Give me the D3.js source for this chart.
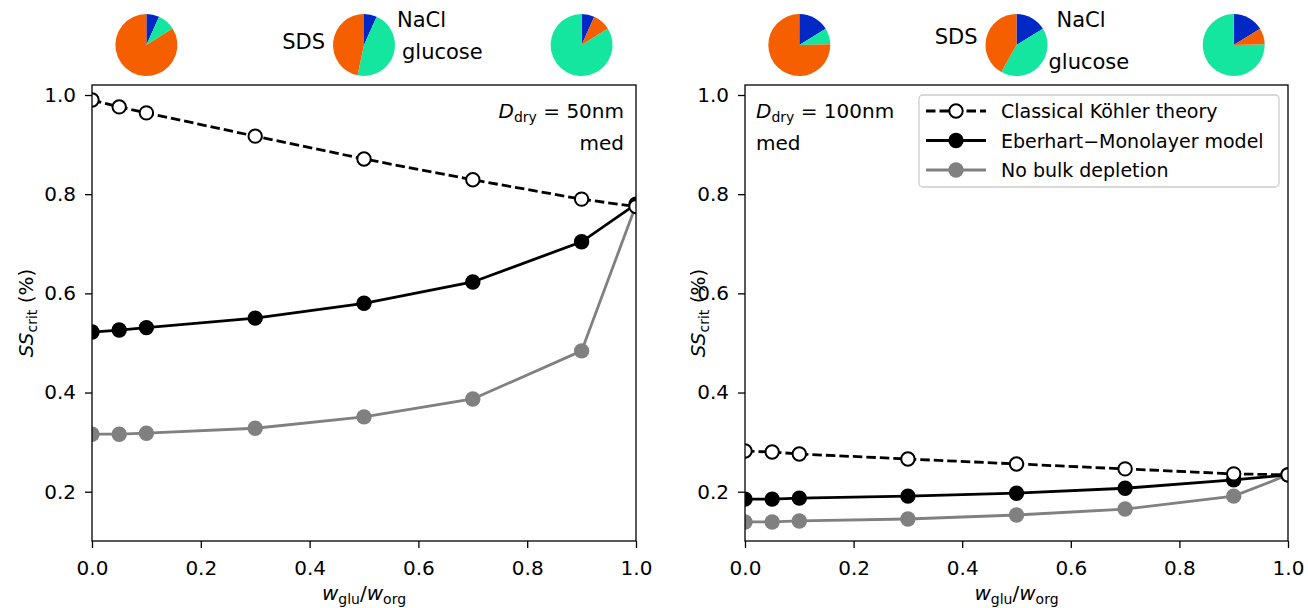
<!DOCTYPE html>
<html><head><meta charset="utf-8">
<script src="https://cdn.jsdelivr.net/npm/d3@7"></script>
<style>body{margin:0;background:#fff} svg{font-family:"DejaVu Sans",sans-serif}</style>
</head><body><svg id="c" width="1308" height="608"></svg>
<script>
// ---------- data ----------
const xValues = [0, 0.05, 0.1, 0.3, 0.5, 0.7, 0.9, 1.0];
const classical50 = [0.990, 0.976, 0.964, 0.917, 0.871, 0.829, 0.790, 0.775];
const eberhart50  = [0.522, 0.526, 0.531, 0.550, 0.580, 0.623, 0.704, 0.780];
const noBulk50    = [0.316, 0.316, 0.318, 0.328, 0.351, 0.387, 0.484, 0.778];
const classical100 = [0.282, 0.280, 0.276, 0.266, 0.256, 0.246, 0.236, 0.234];
const eberhart100  = [0.185, 0.185, 0.187, 0.191, 0.197, 0.207, 0.224, 0.234];
const noBulk100    = [0.139, 0.139, 0.141, 0.145, 0.153, 0.165, 0.191, 0.234];
const xTicks = [0, 0.2, 0.4, 0.6, 0.8, 1.0];
const yTicks = [0.2, 0.4, 0.6, 0.8, 1.0];
const seriesNames = ["Classical Köhler theory", "Eberhart\u2212Monolayer model", "No bulk depletion"];
const componentNames = ["NaCl", "glucose", "SDS"];
const pieX = [0.1, 0.5, 0.9];
const pieNaCl50 = [6.7, 6.7, 6.7];
const pieGlucose50 = [9.3, 46.65, 84.0];
const pieSDS50 = [84.0, 46.65, 9.3];
const pieNaCl100 = [16.2, 16.2, 16.2];
const pieGlucose100 = [8.4, 41.9, 75.4];
const pieSDS100 = [75.4, 41.9, 8.4];
const panelLabels = ["50nm", "100nm"];

// ---------- style ----------
const compColor = {NaCl: "#0028c4", glucose: "#14e6a0", SDS: "#f65f00"};
const svg = d3.select("#c");
const yTop = 85, yBottom = 541;
const panels = [
  {x0: 92, x1: 636, cl: classical50, eb: eberhart50, nb: noBulk50, pn: pieNaCl50, pg: pieGlucose50, ps: pieSDS50, lab: panelLabels[0], right: true, legend: false, ylabX: 33},
  {x0: 745, x1: 1288, cl: classical100, eb: eberhart100, nb: noBulk100, pn: pieNaCl100, pg: pieGlucose100, ps: pieSDS100, lab: panelLabels[1], right: false, legend: true, ylabX: 705}
];
const y = d3.scaleLinear().domain([0.1006, 1.0202]).range([yBottom, yTop]);
const FS = 20;

panels.forEach((p, pi) => {
  const x = d3.scaleLinear().domain([0, 1]).range([p.x0, p.x1]);
  const g = svg.append("g");
  const clipId = "clip" + pi;
  svg.append("clipPath").attr("id", clipId).append("rect")
    .attr("x", p.x0).attr("y", yTop).attr("width", p.x1 - p.x0).attr("height", yBottom - yTop);

  const plot = g.append("g").attr("clip-path", `url(#${clipId})`);
  const line = d3.line().x((d, i) => x(xValues[i])).y(d => y(d));
  const defs = [
    {data: p.nb, color: "#808080", dash: null, fill: "#808080"},
    {data: p.eb, color: "#000", dash: null, fill: "#000"},
    {data: p.cl, color: "#000", dash: "9.5,4", fill: "#fff"}
  ];
  defs.forEach(s => {
    plot.append("path").attr("d", line(s.data)).attr("fill", "none")
      .attr("stroke", s.color).attr("stroke-width", 2.8)
      .attr("stroke-dasharray", s.dash);
    plot.selectAll(null).data(s.data).enter().append("circle")
      .attr("cx", (d, i) => x(xValues[i])).attr("cy", d => y(d))
      .attr("r", s.fill === "#fff" ? 6.7 : 7.7)
      .attr("fill", s.fill).attr("stroke", s.color).attr("stroke-width", s.fill === "#fff" ? 2 : 0);
  });

  // axes
  const ax = g.append("g").attr("transform", `translate(0,${yBottom})`)
    .call(d3.axisBottom(x).tickValues(xTicks).tickFormat(d3.format(".1f")).tickSize(7).tickPadding(13).tickSizeOuter(0));
  const ay = g.append("g").attr("transform", `translate(${p.x0},0)`)
    .call(d3.axisLeft(y).tickValues(yTicks).tickFormat(d3.format(".1f")).tickSize(7).tickPadding(9).tickSizeOuter(0));
  [ax, ay].forEach(a => {
    a.select(".domain").remove();
    a.selectAll("line").attr("stroke", "#000").attr("stroke-width", 1.3);
    a.selectAll("text").attr("font-size", FS).attr("font-family", "DejaVu Sans").attr("fill", "#000");
  });
  g.append("rect").attr("x", p.x0).attr("y", yTop).attr("width", p.x1 - p.x0).attr("height", yBottom - yTop)
    .attr("fill", "none").attr("stroke", "#000").attr("stroke-width", 1.3);

  // axis labels
  const xl = g.append("text").attr("x", (p.x0 + p.x1) / 2).attr("y", 600).attr("text-anchor", "middle").attr("font-size", FS);
  xl.append("tspan").attr("font-style", "italic").text("w");
  xl.append("tspan").attr("font-size", 14).attr("dy", 4).text("glu");
  xl.append("tspan").attr("dy", -4).text("/");
  xl.append("tspan").attr("font-style", "italic").text("w");
  xl.append("tspan").attr("font-size", 14).attr("dy", 4).text("org");

  const yl = g.append("text").attr("transform", `translate(${p.ylabX},${(yTop + yBottom) / 2}) rotate(-90)`)
    .attr("text-anchor", "middle").attr("font-size", FS);
  yl.append("tspan").attr("font-style", "italic").text("SS");
  yl.append("tspan").attr("font-size", 14).attr("dy", 4).text("crit");
  yl.append("tspan").attr("dy", -4).text(" (%)");

  // annotation
  const ann = g.append("text").attr("font-size", FS).attr("y", 118)
    .attr("x", p.right ? 624 : 756).attr("text-anchor", p.right ? "end" : "start");
  ann.append("tspan").attr("font-style", "italic").text("D");
  ann.append("tspan").attr("font-size", 14).attr("dy", 4).text("dry");
  ann.append("tspan").attr("dy", -4).text(" = " + p.lab);
  g.append("text").attr("font-size", FS).attr("y", 150)
    .attr("x", p.right ? 624 : 756).attr("text-anchor", p.right ? "end" : "start").text("med");

  // pies
  const pie = d3.pie().value(d => d.v).sort((a, b) => {
    if (a.name === "NaCl") return -1;
    if (b.name === "NaCl") return 1;
    return a.v - b.v;
  });
  const arc = d3.arc().innerRadius(0).outerRadius(31);
  pieX.forEach((px, k) => {
    const vals = [p.pn[k], p.pg[k], p.ps[k]];
    const data = componentNames.map((n, j) => ({name: n, v: vals[j]}));
    const cx = x(px), cy = 45;
    const pg = svg.append("g").attr("transform", `translate(${cx},${cy})`);
    pg.selectAll("path").data(pie(data)).enter().append("path")
      .attr("d", arc).attr("fill", d => compColor[d.data.name]);
    if (k === 1) {
      const lf = 21;
      if (pi === 0) {
        svg.append("text").attr("x", cx - 39).attr("y", cy + 4).attr("text-anchor", "end").attr("font-size", lf).text("SDS");
        svg.append("text").attr("x", cx + 33).attr("y", cy - 18).attr("font-size", lf).text("NaCl");
        svg.append("text").attr("x", cx + 38).attr("y", cy + 14).attr("font-size", lf).text("glucose");
      } else {
        svg.append("text").attr("x", cx - 39).attr("y", cy - 1).attr("text-anchor", "end").attr("font-size", lf).text("SDS");
        svg.append("text").attr("x", cx + 40).attr("y", cy - 18).attr("font-size", lf).text("NaCl");
        svg.append("text").attr("x", cx + 32).attr("y", cy + 24).attr("font-size", lf).text("glucose");
      }
    }
  });

  // legend
  if (p.legend) {
    const lg = svg.append("g");
    lg.append("rect").attr("x", 919).attr("y", 95).attr("width", 360).attr("height", 92).attr("rx", 4)
      .attr("fill", "#fff").attr("fill-opacity", 0.8).attr("stroke", "#cccccc").attr("stroke-width", 1.3);
    const items = [
      {name: seriesNames[0], color: "#000", dash: "9.5,4", fill: "#fff"},
      {name: seriesNames[1], color: "#000", dash: null, fill: "#000"},
      {name: seriesNames[2], color: "#808080", dash: null, fill: "#808080"}
    ];
    items.forEach((it, i) => {
      const yy = 111 + i * 29.5;
      lg.append("line").attr("x1", 926).attr("x2", 986).attr("y1", yy).attr("y2", yy)
        .attr("stroke", it.color).attr("stroke-width", 2.8).attr("stroke-dasharray", it.dash);
      lg.append("circle").attr("cx", 956).attr("cy", yy).attr("r", it.fill === "#fff" ? 6.7 : 7.7)
        .attr("fill", it.fill).attr("stroke", it.color).attr("stroke-width", it.fill === "#fff" ? 2 : 0);
      lg.append("text").attr("x", 1001).attr("y", yy + 7).attr("font-size", 19).text(it.name);
    });
  }
});
</script>
</body></html>
